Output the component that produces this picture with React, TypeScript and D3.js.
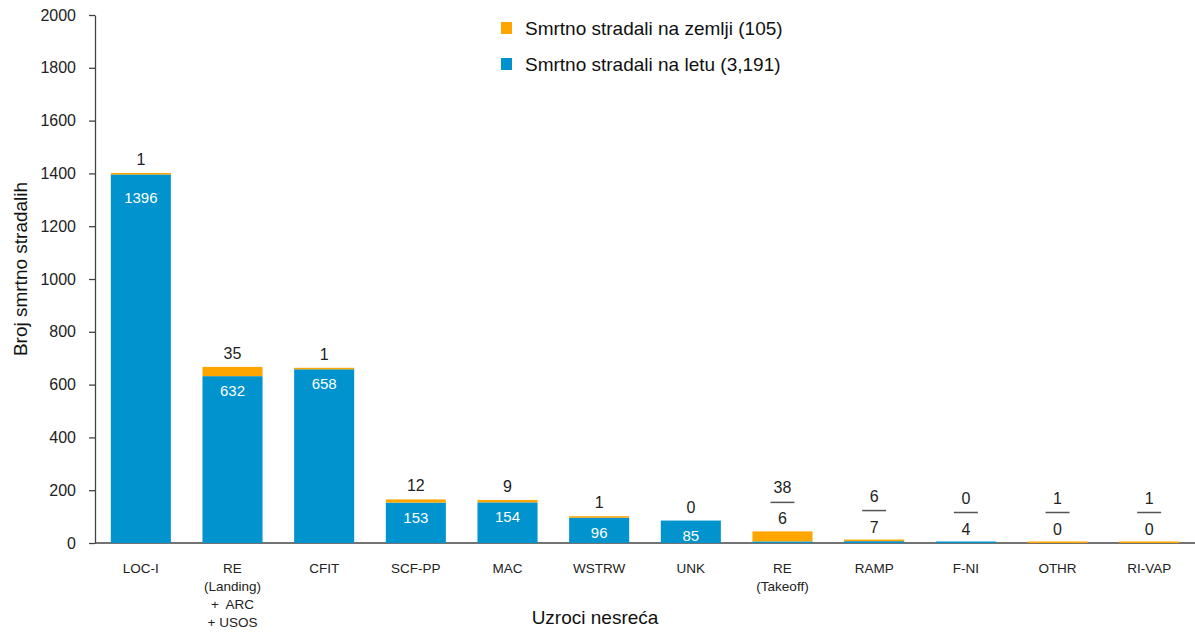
import { useEffect, useRef } from "react";
import * as d3 from "d3";

// uzroci nesreća (kategorije), po redovima teksta
const categories: string[][] = [
  ["LOC-I"],
  ["RE", "(Landing)", "+  ARC", "+ USOS"],
  ["CFIT"],
  ["SCF-PP"],
  ["MAC"],
  ["WSTRW"],
  ["UNK"],
  ["RE", "(Takeoff)"],
  ["RAMP"],
  ["F-NI"],
  ["OTHR"],
  ["RI-VAP"],
];
const flightDeaths = [1396, 632, 658, 153, 154, 96, 85, 6, 7, 4, 0, 0];
const groundDeaths = [1, 35, 1, 12, 9, 1, 0, 38, 6, 0, 1, 1];
const yTicks = [0, 200, 400, 600, 800, 1000, 1200, 1400, 1600, 1800, 2000];
const legendLabels = ["Smrtno stradali na zemlji (105)", "Smrtno stradali na letu (3,191)"];

const ORANGE = "#ffa500";
const BLUE = "#0093cd";
const TEXT = "#222";
const FONT = "'Liberation Sans', Arial, sans-serif";

const App = () => {
  const svgRef = useRef<SVGSVGElement>(null);

  useEffect(() => {
    if (!svgRef.current) return;
    const width = 1195;
    const height = 633;
    const margin = { top: 15, right: 0, bottom: 90, left: 95 };
    const svg = d3.select(svgRef.current);
    svg.selectAll("*").remove();
    svg.attr("width", width).attr("height", height).style("font-family", FONT);

    const x = d3
      .scaleBand<number>()
      .domain(categories.map((_, i) => i))
      .range([margin.left, width - margin.right])
      .paddingInner(0.345)
      .paddingOuter(0.1725);
    const y = d3.scaleLinear().domain([0, 2000]).range([height - margin.bottom, margin.top]);

    // y osa
    const yAxis = svg
      .append("g")
      .attr("transform", `translate(${margin.left},0)`)
      .call(
        d3
          .axisLeft(y)
          .tickValues(yTicks)
          .tickFormat(d3.format("d"))
          .tickSize(6)
          .tickPadding(13)
          .tickSizeOuter(0)
      );
    yAxis.select(".domain").attr("stroke", "#444").attr("stroke-width", 1.3);
    yAxis.selectAll(".tick line").attr("stroke", "#444").attr("stroke-width", 1.3);
    yAxis
      .selectAll(".tick text")
      .attr("fill", TEXT)
      .style("font-size", "16px")
      .style("font-family", FONT);

    // x osa
    svg
      .append("line")
      .attr("x1", margin.left)
      .attr("x2", width)
      .attr("y1", y(0))
      .attr("y2", y(0))
      .attr("stroke", "#444")
      .attr("stroke-width", 1.3);

    const bw = x.bandwidth();
    const minH = (v: number, h: number) => (v > 0 ? Math.max(h, 1.5) : 0);

    categories.forEach((cat, i) => {
      const x0 = x(i)!;
      const cx = x0 + bw / 2;
      const fH = minH(flightDeaths[i], y(0) - y(flightDeaths[i]));
      const gH = minH(groundDeaths[i], y(0) - y(groundDeaths[i]));
      const blueTop = y(0) - fH;
      const top = blueTop - gH;

      // stubovi
      svg
        .append("rect")
        .attr("x", x0)
        .attr("y", blueTop)
        .attr("width", bw)
        .attr("height", fH)
        .attr("fill", BLUE);
      svg
        .append("rect")
        .attr("x", x0)
        .attr("y", top)
        .attr("width", bw)
        .attr("height", gH)
        .attr("fill", ORANGE);

      if (i < 7) {
        svg
          .append("text")
          .attr("x", cx)
          .attr("y", top - 8)
          .attr("text-anchor", "middle")
          .attr("fill", TEXT)
          .style("font-size", "16px")
          .text(groundDeaths[i]);
        svg
          .append("text")
          .attr("x", cx)
          .attr("y", blueTop + (i === 0 ? 29 : 20))
          .attr("text-anchor", "middle")
          .attr("fill", "#fff")
          .style("font-size", "15px")
          .text(flightDeaths[i]);
      } else {
        const lineY = top - 29;
        svg
          .append("text")
          .attr("x", cx)
          .attr("y", lineY - 9)
          .attr("text-anchor", "middle")
          .attr("fill", TEXT)
          .style("font-size", "16px")
          .text(groundDeaths[i]);
        svg
          .append("line")
          .attr("x1", cx - 12)
          .attr("x2", cx + 12)
          .attr("y1", lineY)
          .attr("y2", lineY)
          .attr("stroke", "#555")
          .attr("stroke-width", 1.5);
        svg
          .append("text")
          .attr("x", cx)
          .attr("y", lineY + 22)
          .attr("text-anchor", "middle")
          .attr("fill", TEXT)
          .style("font-size", "16px")
          .text(flightDeaths[i]);
      }

      // nazivi kategorija
      const label = svg
        .append("text")
        .attr("x", cx)
        .attr("y", y(0) + 30)
        .attr("text-anchor", "middle")
        .attr("fill", TEXT)
        .style("font-size", "13.5px");
      cat.forEach((line, j) => {
        label
          .append("tspan")
          .attr("x", cx)
          .attr("dy", j === 0 ? 0 : 18)
          .style("white-space", "pre")
          .text(line);
      });
    });

    // naslovi osa
    svg
      .append("text")
      .attr("transform", `translate(27, ${(y(0) + y(2000)) / 2 - 10}) rotate(-90)`)
      .attr("text-anchor", "middle")
      .attr("fill", "#111")
      .style("font-size", "19px")
      .text("Broj smrtno stradalih");
    svg
      .append("text")
      .attr("x", 595)
      .attr("y", 624)
      .attr("text-anchor", "middle")
      .attr("fill", "#111")
      .style("font-size", "19px")
      .text("Uzroci nesreća");

    // legenda
    const legend = svg.append("g").attr("transform", "translate(501, 22)");
    [ORANGE, BLUE].forEach((c, i) => {
      legend
        .append("rect")
        .attr("x", 0)
        .attr("y", i * 36)
        .attr("width", 11)
        .attr("height", 12)
        .attr("fill", c);
      legend
        .append("text")
        .attr("x", 24)
        .attr("y", i * 36 + 13)
        .attr("fill", "#111")
        .style("font-size", "19px")
        .text(legendLabels[i]);
    });
  }, []);

  return (
    <svg
      ref={svgRef}
      style={{ display: "block", position: "fixed", left: 0, top: 0, background: "#fff" }}
    />
  );
};

export default App;
